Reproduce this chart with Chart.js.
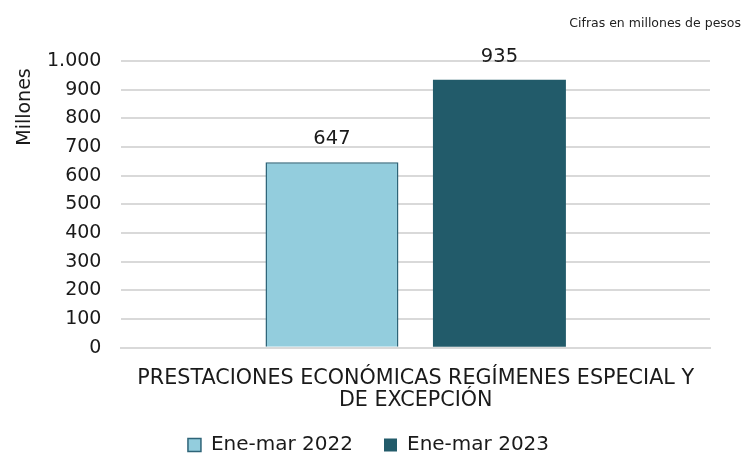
<!DOCTYPE html>
<html>
<head>
<meta charset="utf-8">
<script src="https://cdn.jsdelivr.net/npm/chart.js@4"></script>
<style>
html,body{margin:0;padding:0;background:#fff;}
#wrap{width:746px;height:456px;position:relative;}
</style>
</head>
<body>
<div id="wrap"><canvas id="c" width="746" height="456"></canvas></div>
<script>
const categories = [["PRESTACIONES ECONÓMICAS REGÍMENES ESPECIAL Y", "DE EXCEPCIÓN"]];
const seriesNames = ["Ene-mar 2022", "Ene-mar 2023"];
const values2022 = [647];
const values2023 = [935];
const yTicks = [0, 100, 200, 300, 400, 500, 600, 700, 800, 900, 1000];
const yTitle = "Millones";
const note = "Cifras en millones de pesos";

function fmt(v) {
  return String(Math.round(v)).replace(/\B(?=(\d{3})+(?!\d))/g, ".");
}

const FONT = "'DejaVu Sans', Verdana, sans-serif";

const labelPlugin = {
  id: 'barLabels',
  afterDatasetsDraw(chart) {
    const ctx = chart.ctx;
    ctx.save();
    ctx.font = "19.5px " + FONT;
    ctx.fillStyle = "#1a1a1a";
    ctx.textAlign = "center";
    ctx.textBaseline = "middle";
    chart.data.datasets.forEach((ds, i) => {
      chart.getDatasetMeta(i).data.forEach((bar, j) => {
        ctx.fillText(fmt(ds.data[j]), bar.x, bar.y - 23);
      });
    });
    ctx.restore();
  }
};

const legendShift = {
  id: 'legendShift',
  afterLayout(chart) {
    if (chart.legend) {
      chart.legend.top -= 20;
      chart.legend.bottom -= 20;
    }
  }
};

const textPlugin = {
  id: 'extraText',
  afterDraw(chart) {
    const ctx = chart.ctx;
    ctx.save();
    ctx.font = "12.5px " + FONT;
    ctx.fillStyle = "#222";
    ctx.textAlign = "right";
    ctx.textBaseline = "middle";
    ctx.fillText(note, 741, 24);
    ctx.translate(25, 107);
    ctx.rotate(-Math.PI / 2);
    ctx.font = "19px " + FONT;
    ctx.fillStyle = "#1a1a1a";
    ctx.textAlign = "center";
    ctx.fillText(yTitle, 0, 0);
    ctx.restore();
  }
};

new Chart(document.getElementById('c'), {
  type: 'bar',
  data: {
    labels: categories,
    datasets: [
      { label: seriesNames[0], data: values2022, backgroundColor: '#93CDDD', borderColor: '#2E6478', borderWidth: 1.5 },
      { label: seriesNames[1], data: values2023, backgroundColor: '#225B6A', borderColor: '#225B6A', borderWidth: 0 }
    ]
  },
  options: {
    responsive: false,
    animation: false,
    layout: { padding: { top: 61, right: 36, left: 27, bottom: -20 } },
    categoryPercentage: 0.569,
    barPercentage: 0.794,
    plugins: {
      legend: {
        position: 'bottom',
        maxHeight: 52,
        labels: {
          font: { size: 20, family: FONT },
          color: '#1a1a1a',
          boxWidth: 13, boxHeight: 13,
          padding: 31,
          generateLabels(chart) {
            return chart.data.datasets.map((ds, i) => ({
              text: ds.label,
              fillStyle: ds.backgroundColor,
              strokeStyle: i === 0 ? '#2E6478' : ds.backgroundColor,
              lineWidth: i === 0 ? 1.5 : 0,
              datasetIndex: i,
              fontColor: '#1a1a1a'
            }));
          }
        }
      },
      tooltip: { enabled: false }
    },
    scales: {
      x: {
        grid: { display: false },
        border: { display: true, color: '#d9d9d9', width: 2 },
        ticks: { font: { size: 20.7, family: FONT, lineHeight: 1.07 }, color: '#1a1a1a', padding: 12, maxRotation: 0 }
      },
      y: {
        min: 0, max: 1000,
        afterBuildTicks(axis) { axis.ticks = yTicks.map(v => ({ value: v })); },
        grid: { color: '#d9d9d9', lineWidth: 2, drawTicks: false },
        border: { display: false },
        ticks: { font: { size: 19, family: FONT }, color: '#1a1a1a', padding: 20, callback: v => fmt(v) }
      }
    }
  },
  plugins: [labelPlugin, legendShift, textPlugin]
});
</script>
</body>
</html>
